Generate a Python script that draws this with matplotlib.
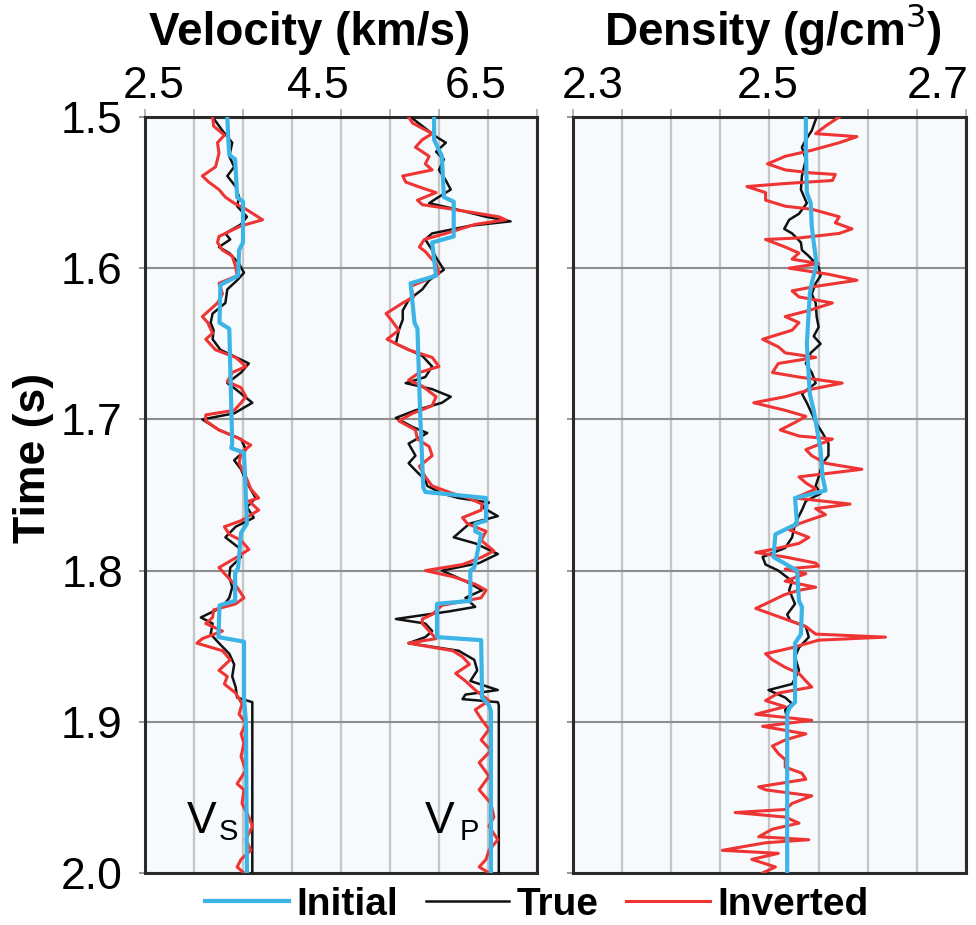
import numpy as np
import matplotlib
matplotlib.use('Agg')
import matplotlib.pyplot as plt

plt.rcParams['font.family'] = ['Liberation Sans', 'DejaVu Sans']

# ---- values: time (s) and property ----
# S-wave velocity (km/s)
vs_init_t = [1.500, 1.515, 1.525, 1.528, 1.553, 1.556, 1.583, 1.588, 1.605, 1.611, 1.636, 1.640,
             1.716, 1.719, 1.722, 1.752, 1.769, 1.775, 1.798, 1.802, 1.820, 1.823, 1.844, 1.847,
             1.884, 1.900, 2.000]
vs_init = [3.34, 3.35, 3.36, 3.42, 3.44, 3.50, 3.50, 3.46, 3.45, 3.27, 3.26, 3.36,
           3.39, 3.38, 3.51, 3.53, 3.54, 3.48, 3.45, 3.42, 3.42, 3.26, 3.25, 3.51,
           3.51, 3.53, 3.54]

vs_true_t = [1.500, 1.509, 1.517, 1.526, 1.533, 1.539, 1.546, 1.553, 1.559, 1.566, 1.571, 1.577,
             1.581, 1.586, 1.590, 1.597, 1.603, 1.608, 1.614, 1.623, 1.630, 1.636, 1.641, 1.647,
             1.654, 1.663, 1.669, 1.676, 1.680, 1.689, 1.696, 1.700, 1.707, 1.713, 1.720, 1.727,
             1.733, 1.742, 1.752, 1.758, 1.765, 1.771, 1.778, 1.785, 1.791, 1.798, 1.804, 1.811,
             1.818, 1.824, 1.831, 1.835, 1.842, 1.848, 1.855, 1.862, 1.870, 1.877, 1.884, 1.887,
             2.000]
vs_true = [3.19, 3.29, 3.39, 3.36, 3.41, 3.34, 3.425, 3.46, 3.44, 3.54, 3.48, 3.32,
           3.37, 3.255, 3.36, 3.46, 3.51, 3.44, 3.34, 3.32, 3.19, 3.17, 3.20, 3.19,
           3.27, 3.56, 3.48, 3.34, 3.425, 3.595, 3.41, 3.085, 3.255, 3.48, 3.53, 3.41,
           3.48, 3.54, 3.63, 3.54, 3.61, 3.425, 3.32, 3.46, 3.48, 3.37, 3.36, 3.39,
           3.36, 3.29, 3.07, 3.19, 3.17, 3.255, 3.36, 3.41, 3.39, 3.425, 3.44, 3.595,
           3.595]

vs_inv_t = [1.500, 1.506, 1.512, 1.517, 1.524, 1.533, 1.539, 1.543, 1.548, 1.553, 1.557, 1.561,
            1.568, 1.572, 1.579, 1.583, 1.588, 1.592, 1.599, 1.605, 1.610, 1.617, 1.623, 1.632,
            1.636, 1.643, 1.647, 1.654, 1.659, 1.665, 1.669, 1.675, 1.679, 1.685, 1.689, 1.694,
            1.697, 1.701, 1.707, 1.712, 1.717, 1.722, 1.729, 1.738, 1.746, 1.752, 1.754, 1.760,
            1.767, 1.771, 1.776, 1.780, 1.786, 1.791, 1.798, 1.804, 1.811, 1.818, 1.822, 1.826,
            1.831, 1.835, 1.840, 1.845, 1.848, 1.853, 1.859, 1.866, 1.870, 1.875, 1.881, 1.888,
            1.895, 1.901, 1.908, 1.914, 1.923, 1.932, 1.941, 1.945, 1.954, 1.963, 1.969, 1.978,
            1.985, 1.991, 1.996, 2.000]
vs_inv = [3.19, 3.20, 3.31, 3.24, 3.255, 3.22, 3.085, 3.15, 3.255, 3.32, 3.41, 3.53,
          3.70, 3.48, 3.255, 3.24, 3.29, 3.39, 3.425, 3.44, 3.255, 3.29, 3.24, 3.085,
          3.14, 3.19, 3.12, 3.22, 3.425, 3.53, 3.39, 3.34, 3.48, 3.53, 3.48, 3.41,
          3.12, 3.12, 3.255, 3.44, 3.58, 3.48, 3.46, 3.53, 3.58, 3.66, 3.56, 3.66,
          3.48, 3.31, 3.36, 3.48, 3.56, 3.44, 3.255, 3.34, 3.44, 3.51, 3.425, 3.20,
          3.19, 3.12, 3.29, 3.085, 3.03, 3.29, 3.37, 3.255, 3.34, 3.31, 3.425, 3.49,
          3.46, 3.53, 3.48, 3.51, 3.48, 3.53, 3.44, 3.51, 3.49, 3.56, 3.595, 3.53,
          3.58, 3.48, 3.44, 3.51]

# P-wave velocity (km/s)
vp_init_t = [1.500, 1.515, 1.526, 1.553, 1.556, 1.579, 1.583, 1.605, 1.610, 1.636, 1.640, 1.700,
             1.745, 1.748, 1.752, 1.767, 1.769, 1.774, 1.776, 1.798, 1.800, 1.820, 1.822, 1.844,
             1.846, 1.884, 1.889, 1.893, 2.000]
vp_init = [5.45, 5.45, 5.53, 5.55, 5.65, 5.65, 5.43, 5.47, 5.21, 5.25, 5.28, 5.31,
           5.34, 5.36, 5.98, 5.98, 5.87, 5.87, 5.93, 5.86, 5.82, 5.82, 5.48, 5.48,
           5.93, 5.94, 6.01, 6.03, 6.03]

vp_true_t = [1.500, 1.506, 1.513, 1.517, 1.523, 1.528, 1.535, 1.542, 1.548, 1.554, 1.557, 1.561,
             1.566, 1.569, 1.572, 1.577, 1.581, 1.588, 1.594, 1.601, 1.608, 1.614, 1.621, 1.628,
             1.634, 1.641, 1.650, 1.658, 1.665, 1.672, 1.676, 1.680, 1.685, 1.689, 1.694, 1.699,
             1.705, 1.709, 1.716, 1.724, 1.729, 1.735, 1.740, 1.744, 1.749, 1.752, 1.755, 1.758,
             1.764, 1.769, 1.778, 1.782, 1.789, 1.795, 1.800, 1.807, 1.813, 1.818, 1.824, 1.827,
             1.832, 1.835, 1.840, 1.844, 1.848, 1.853, 1.859, 1.866, 1.873, 1.879, 1.882, 1.885,
             1.887, 1.889, 2.000]
vp_true = [5.21, 5.33, 5.47, 5.57, 5.47, 5.55, 5.50, 5.57, 5.62, 5.47, 5.40, 5.67,
           5.98, 6.23, 5.81, 5.43, 5.36, 5.43, 5.48, 5.55, 5.40, 5.33, 5.19, 5.13,
           5.13, 5.09, 5.06, 5.33, 5.43, 5.36, 5.16, 5.43, 5.62, 5.53, 5.26, 5.06,
           5.23, 5.38, 5.19, 5.26, 5.19, 5.28, 5.36, 5.38, 5.53, 5.70, 6.01, 5.94,
           6.10, 5.81, 5.65, 5.87, 6.10, 5.91, 5.53, 5.77, 5.94, 5.77, 5.87, 5.60,
           5.06, 5.36, 5.43, 5.36, 5.19, 5.70, 5.86, 5.89, 5.82, 6.10, 5.77, 5.74,
           6.10, 6.11, 6.11]

vp_inv_t = [1.500, 1.504, 1.511, 1.515, 1.520, 1.526, 1.531, 1.535, 1.539, 1.543, 1.547, 1.550,
            1.555, 1.558, 1.561, 1.566, 1.568, 1.571, 1.577, 1.581, 1.586, 1.589, 1.592, 1.597,
            1.603, 1.608, 1.612, 1.619, 1.623, 1.630, 1.634, 1.641, 1.647, 1.654, 1.659, 1.665,
            1.669, 1.674, 1.678, 1.685, 1.691, 1.696, 1.701, 1.707, 1.713, 1.718, 1.724, 1.731,
            1.738, 1.744, 1.749, 1.752, 1.756, 1.760, 1.765, 1.769, 1.774, 1.780, 1.787, 1.791,
            1.796, 1.800, 1.804, 1.809, 1.813, 1.818, 1.823, 1.829, 1.832, 1.835, 1.840, 1.845,
            1.848, 1.853, 1.857, 1.862, 1.868, 1.873, 1.879, 1.886, 1.892, 1.899, 1.905, 1.912,
            1.919, 1.927, 1.936, 1.945, 1.954, 1.963, 1.969, 1.978, 1.985, 1.991, 1.996, 2.000]
vp_inv = [5.19, 5.23, 5.43, 5.33, 5.26, 5.40, 5.36, 5.43, 5.13, 5.16, 5.33, 5.47,
          5.28, 5.33, 5.64, 6.11, 6.18, 5.87, 5.57, 5.35, 5.30, 5.36, 5.40, 5.47,
          5.50, 5.36, 5.21, 5.24, 5.13, 4.96, 5.01, 5.09, 4.97, 5.19, 5.43, 5.50,
          5.30, 5.19, 5.33, 5.47, 5.43, 5.23, 5.09, 5.26, 5.28, 5.40, 5.43, 5.30,
          5.36, 5.43, 5.64, 5.80, 5.94, 5.93, 5.74, 5.79, 5.98, 5.93, 6.06, 5.94,
          5.74, 5.36, 5.64, 5.87, 5.98, 5.93, 5.53, 5.43, 5.33, 5.33, 5.40, 5.47,
          5.19, 5.64, 5.74, 5.81, 5.67, 5.77, 5.87, 6.01, 5.87, 5.94, 6.01, 5.93,
          6.03, 5.91, 6.01, 5.91, 6.03, 6.06, 6.01, 6.10, 6.01, 5.98, 5.91, 6.01]

# density (g/cm3)
rho_init_t = [1.500, 1.517, 1.550, 1.557, 1.572, 1.583, 1.597, 1.610, 1.617, 1.650, 1.683, 1.694,
              1.705, 1.720, 1.738, 1.747, 1.752, 1.769, 1.776, 1.791, 1.800, 1.820, 1.824, 1.842,
              1.848, 1.887, 1.891, 1.895, 2.000]
rho_init = [2.537, 2.537, 2.538, 2.542, 2.543, 2.545, 2.548, 2.543, 2.541, 2.538, 2.541, 2.545,
            2.548, 2.552, 2.554, 2.557, 2.526, 2.528, 2.506, 2.504, 2.528, 2.530, 2.533, 2.532,
            2.526, 2.526, 2.520, 2.518, 2.518]

rho_true_t = [1.500, 1.509, 1.515, 1.520, 1.528, 1.539, 1.548, 1.557, 1.564, 1.568, 1.574, 1.577,
              1.583, 1.588, 1.592, 1.599, 1.605, 1.610, 1.617, 1.623, 1.632, 1.639, 1.645, 1.650,
              1.656, 1.663, 1.669, 1.676, 1.683, 1.689, 1.696, 1.702, 1.709, 1.716, 1.724, 1.729,
              1.738, 1.744, 1.749, 1.754, 1.760, 1.769, 1.778, 1.785, 1.791, 1.796, 1.800, 1.807,
              1.813, 1.822, 1.829, 1.833, 1.837, 1.844, 1.851, 1.857, 1.866, 1.875, 1.879, 1.884,
              1.888, 1.892, 1.899, 2.000]
rho_true = [2.548, 2.543, 2.537, 2.533, 2.537, 2.533, 2.532, 2.538, 2.530, 2.520, 2.515, 2.523,
            2.532, 2.533, 2.540, 2.550, 2.552, 2.547, 2.543, 2.547, 2.548, 2.550, 2.545, 2.552,
            2.542, 2.537, 2.543, 2.547, 2.533, 2.538, 2.543, 2.547, 2.554, 2.560, 2.560, 2.554,
            2.550, 2.547, 2.552, 2.537, 2.533, 2.526, 2.523, 2.516, 2.493, 2.496, 2.509, 2.523,
            2.520, 2.526, 2.518, 2.521, 2.537, 2.540, 2.530, 2.526, 2.530, 2.523, 2.499, 2.516,
            2.523, 2.516, 2.518, 2.518]

rho_inv_t = [1.500, 1.506, 1.511, 1.513, 1.517, 1.522, 1.526, 1.531, 1.535, 1.537, 1.538, 1.542,
             1.544, 1.546, 1.550, 1.555, 1.559, 1.561, 1.566, 1.570, 1.574, 1.577, 1.580, 1.581,
             1.586, 1.590, 1.594, 1.597, 1.600, 1.604, 1.608, 1.612, 1.615, 1.619, 1.623, 1.628,
             1.632, 1.636, 1.641, 1.647, 1.652, 1.656, 1.659, 1.663, 1.669, 1.672, 1.676, 1.680,
             1.685, 1.689, 1.694, 1.698, 1.702, 1.707, 1.711, 1.713, 1.720, 1.724, 1.729, 1.733,
             1.738, 1.742, 1.746, 1.752, 1.756, 1.759, 1.763, 1.766, 1.769, 1.773, 1.778, 1.782,
             1.786, 1.788, 1.791, 1.795, 1.797, 1.799, 1.802, 1.807, 1.811, 1.813, 1.816, 1.822,
             1.825, 1.829, 1.833, 1.837, 1.842, 1.844, 1.846, 1.851, 1.855, 1.859, 1.864, 1.868,
             1.873, 1.877, 1.881, 1.886, 1.890, 1.895, 1.899, 1.903, 1.908, 1.912, 1.916, 1.921,
             1.925, 1.930, 1.934, 1.938, 1.943, 1.945, 1.949, 1.954, 1.958, 1.960, 1.963, 1.967,
             1.971, 1.976, 1.978, 1.980, 1.985, 1.987, 1.991, 1.996, 2.000]
rho_inv = [2.571, 2.557, 2.547, 2.589, 2.571, 2.543, 2.516, 2.498, 2.516, 2.543, 2.567, 2.564,
           2.516, 2.477, 2.496, 2.496, 2.516, 2.543, 2.571, 2.567, 2.584, 2.571, 2.530, 2.496,
           2.516, 2.530, 2.523, 2.550, 2.520, 2.560, 2.589, 2.547, 2.523, 2.530, 2.564, 2.540,
           2.516, 2.530, 2.523, 2.493, 2.509, 2.516, 2.547, 2.509, 2.503, 2.530, 2.574, 2.543,
           2.516, 2.484, 2.516, 2.537, 2.526, 2.511, 2.530, 2.564, 2.537, 2.543, 2.557, 2.594,
           2.530, 2.537, 2.547, 2.526, 2.582, 2.547, 2.557, 2.543, 2.530, 2.520, 2.540, 2.530,
           2.503, 2.486, 2.516, 2.547, 2.550, 2.516, 2.537, 2.516, 2.547, 2.530, 2.515, 2.496,
           2.486, 2.503, 2.520, 2.537, 2.547, 2.618, 2.550, 2.523, 2.496, 2.503, 2.516, 2.530,
           2.537, 2.543, 2.509, 2.496, 2.516, 2.486, 2.543, 2.493, 2.537, 2.516, 2.503, 2.509,
           2.516, 2.516, 2.533, 2.537, 2.489, 2.496, 2.543, 2.523, 2.516, 2.465, 2.516, 2.530,
           2.503, 2.489, 2.540, 2.496, 2.452, 2.509, 2.482, 2.506, 2.493]

time_ticks = [1.5, 1.6, 1.7, 1.8, 1.9, 2.0]

BLUE = '#3cb4e5'
RED = '#ef3434'
BLACK = '#111111'

fig = plt.figure(figsize=(9.76, 9.25), dpi=100)
ax1 = fig.add_axes([145 / 976, 52 / 925, 392 / 976, 756 / 925])
ax2 = fig.add_axes([573 / 976, 52 / 925, 393 / 976, 756 / 925])


def style_track(ax, xmin, xmax, step):
    ax.set_facecolor('#f7fafd')
    ax.set_xlim(xmin, xmax)
    ax.set_ylim(2.0, 1.5)
    ax.set_xticks(np.arange(xmin, xmax + step / 2, step))
    ax.set_yticks(time_ticks)
    ax.set_axisbelow(True)
    ax.grid(axis='x', color='#c6c6c6', lw=1.7)
    ax.grid(axis='y', color='#8e8e8e', lw=1.5)
    ax.tick_params(axis='x', top=True, bottom=False, labeltop=False, labelbottom=False,
                   direction='out', length=6, width=1.3, color='#b0b0b0')
    ax.tick_params(axis='y', left=True, direction='out', length=4, width=1.3,
                   color='#8e8e8e', labelsize=32, pad=12)
    for sp in ax.spines.values():
        sp.set_color('#2a2a2a')
        sp.set_linewidth(2.2)


style_track(ax1, 2.5, 6.5, 0.5)
style_track(ax2, 2.3, 2.7, 0.05)
ax1.set_yticklabels(['%.1f' % t for t in time_ticks])
ax2.tick_params(axis='y', labelleft=False)

# velocity track
ax1.plot(vs_true, vs_true_t, color=BLACK, lw=1.8, zorder=3, label='True')
ax1.plot(vs_inv, vs_inv_t, color=RED, lw=2.2, zorder=4, label='Inverted')
ax1.plot(vs_init, vs_init_t, color=BLUE, lw=3.0, zorder=5, label='Initial')
ax1.plot(vp_true, vp_true_t, color=BLACK, lw=1.8, zorder=3)
ax1.plot(vp_inv, vp_inv_t, color=RED, lw=2.2, zorder=4)
ax1.plot(vp_init, vp_init_t, color=BLUE, lw=3.0, zorder=5)

# density track
ax2.plot(rho_true, rho_true_t, color=BLACK, lw=1.8, zorder=3)
ax2.plot(rho_inv, rho_inv_t, color=RED, lw=2.2, zorder=4)
ax2.plot(rho_init, rho_init_t, color=BLUE, lw=3.0, zorder=5)

# curve names
ax1.text(2.93, 1.9735, 'V', fontsize=32, ha='left', va='baseline', zorder=6)
ax1.text(3.255, 1.978, 'S', fontsize=21, ha='left', va='baseline', zorder=6)
ax1.text(5.36, 1.9735, 'V', fontsize=32, ha='left', va='baseline', zorder=6)
ax1.text(5.715, 1.978, 'P', fontsize=21, ha='left', va='baseline', zorder=6)

# titles and top tick labels
fig.text(310 / 976, 1 - 45 / 925, 'Velocity (km/s)', fontsize=33, fontweight='bold',
         ha='center', va='baseline')
fig.text(773 / 976, 1 - 45 / 925, 'Density (g/cm$^3$)', fontsize=33, fontweight='bold',
         ha='center', va='baseline')
for lab, xp in [('2.5', 154), ('4.5', 318), ('6.5', 476), ('2.3', 593), ('2.5', 768), ('2.7', 938)]:
    fig.text(xp / 976, 1 - 98 / 925, lab, fontsize=32, ha='center', va='baseline')

fig.text(33 / 976, 1 - 458 / 925, 'Time (s)', fontsize=32, fontweight='bold',
         rotation=90, ha='center', va='center')

h, l = ax1.get_legend_handles_labels()
order = [2, 0, 1]
fig.legend([h[i] for i in order], [l[i] for i in order], loc='center',
           bbox_to_anchor=(537 / 976, 1 - 905 / 925), ncol=3, frameon=False,
           prop=dict(weight='bold', size=28), handlelength=2.15, handletextpad=0.2,
           columnspacing=0.7, borderpad=0)

fig.savefig('out.png', dpi=100)
